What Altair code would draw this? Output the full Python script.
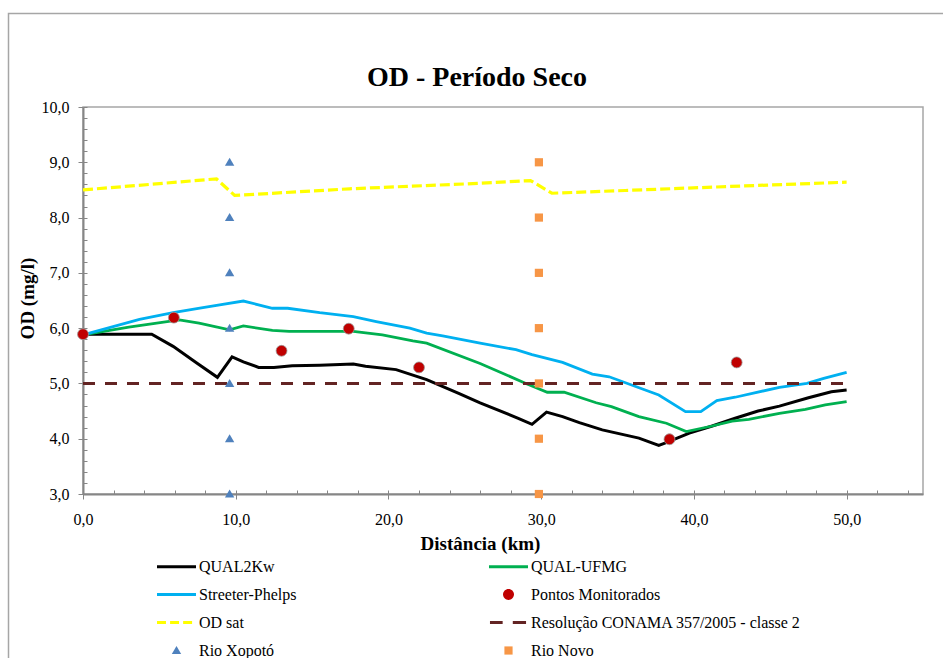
import altair as alt
import pandas as pd

# ---------------- data ----------------
q2k_x = [0, 4.5, 5.9, 7.4, 8.8, 9.76, 10.5, 11.5, 12.5, 13.7, 15.5, 17.7, 18.5, 20.5, 22.5,
         24.6, 26.0, 28.5, 29.4, 30.35, 31.4, 32.5, 34.0, 36.4, 37.7, 38.1, 39.7, 41.2,
         42.7, 44.2, 45.6, 47.5, 49.0, 50.0]
q2k_y = [5.89, 5.89, 5.67, 5.38, 5.11, 5.48, 5.39, 5.29, 5.29, 5.32, 5.33, 5.35, 5.31, 5.25, 5.07,
         4.82, 4.65, 4.37, 4.26, 4.48, 4.40, 4.29, 4.16, 4.01, 3.88, 3.92, 4.10, 4.23,
         4.37, 4.50, 4.59, 4.74, 4.85, 4.88]

ufmg_x = [0, 3.0, 6.3, 7.6, 9.6, 10.5, 12.4, 13.5, 17.7, 19.6, 21.6, 22.5, 26.0, 29.0, 30.4,
          31.5, 33.6, 34.6, 36.4, 38.2, 39.5, 41.2, 42.5, 43.6, 45.6, 47.3, 48.6, 50.0]
ufmg_y = [5.88, 6.02, 6.15, 6.09, 5.97, 6.04, 5.96, 5.94, 5.94, 5.88, 5.77, 5.73, 5.36, 5.00, 4.84,
          4.84, 4.65, 4.58, 4.40, 4.28, 4.13, 4.23, 4.32, 4.35, 4.46, 4.53, 4.61, 4.67]

sp_x = [0, 3.7, 5.9, 7.65, 8.95, 10.5, 12.4, 13.4, 15.5, 17.7, 19.2, 21.4, 22.5, 23.55, 26.0,
        28.35, 29.4, 31.4, 33.35, 34.45, 37.7, 39.45, 40.45, 41.5, 42.7, 45.6, 47.4, 48.5, 50.0]
sp_y = [5.88, 6.16, 6.28, 6.36, 6.42, 6.49, 6.36, 6.36, 6.28, 6.21, 6.12, 6.00, 5.91, 5.86, 5.73,
        5.61, 5.52, 5.38, 5.17, 5.12, 4.79, 4.49, 4.49, 4.69, 4.75, 4.93, 5.00, 5.09, 5.20]

odsat_x = [0, 8.74, 9.93, 17.45, 26.0, 29.3, 30.7, 35.5, 42.1, 50.0]
odsat_y = [8.50, 8.70, 8.40, 8.52, 8.62, 8.67, 8.44, 8.49, 8.56, 8.64]

conama_x = [0, 50]
conama_y = [5.0, 5.0]

mon_x = [0, 5.95, 13.0, 17.4, 22.0, 38.4, 42.8]
mon_y = [5.89, 6.19, 5.59, 5.99, 5.29, 3.99, 5.38]

xop_x = [9.6, 9.6, 9.6, 9.6, 9.6, 9.6, 9.6]
xop_y = [3, 4, 5, 6, 7, 8, 9]

novo_x = [29.85, 29.85, 29.85, 29.85, 29.85, 29.85, 29.85]
novo_y = [3, 4, 5, 6, 7, 8, 9]

series_names = ["QUAL2Kw", "QUAL-UFMG", "Streeter-Phelps", "Pontos Monitorados", "OD sat",
                "Resolução CONAMA 357/2005 - classe 2", "Rio Xopotó", "Rio Novo"]
series_colors = ["#000000", "#00B050", "#00B0F0", "#C00000", "#FFFF00", "#632423", "#4F81BD", "#F79646"]

y_major = [3, 4, 5, 6, 7, 8, 9, 10]
x_major = [0, 10, 20, 30, 40, 50]
y_minor = [round(3 + 0.2 * i, 1) for i in range(36)]
x_minor = [2 * i for i in range(28)]

# ---------------- styling ----------------
FONT = "Liberation Serif, Times New Roman, serif"
W, H = 840, 387
S = 1521  # symbol area -> 39 px wide legend symbols

line_path = "M-1,-0.075H1V0.075H-1Z"
ysat_path = "M-1,-0.075H-0.54V0.075H-1Z M-0.33,-0.075H0.13V0.075H-0.33Z M0.34,-0.075H0.8V0.075H0.34Z"
conama_path = "M-0.95,-0.08H-0.3V0.08H-0.95Z M0.22,-0.08H0.9V0.08H0.22Z"
circle_path = "M0.28,0A0.28,0.28 0 1,1 -0.28,0A0.28,0.28 0 1,1 0.28,0Z"
tri_path = "M0,-0.23L0.24,0.18L-0.24,0.18Z"
sq_path = "M-0.21,-0.21H0.21V0.21H-0.21Z"
series_shapes = [line_path, line_path, line_path, circle_path, ysat_path, conama_path, tri_path, sq_path]

xscale = alt.Scale(domain=[0, 55], nice=False, zero=False)
yscale = alt.Scale(domain=[3, 10], nice=False, zero=False)
comma_fmt = "replace(format(datum.value, '.1f'), '.', ',')"

main_x_axis = alt.Axis(values=x_major, labelExpr=comma_fmt, orient="bottom", grid=False,
                       tickSize=5, tickColor="#868686", tickWidth=1,
                       domainColor="#868686", domainWidth=2, labelFlush=False,
                       labelFont=FONT, labelFontSize=16, labelColor="#000000",
                       labelBaseline="alphabetic", labelPadding=25,
                       title="Distância (km)", titleFont=FONT, titleFontSize=19,
                       titleFontWeight="bold", titleColor="#000000",
                       titleX=397, titleY=55, titleAlign="center", titleBaseline="alphabetic")
main_y_axis = alt.Axis(values=y_major, labelExpr=comma_fmt, orient="left", grid=False,
                       tickSize=5, tickColor="#868686", tickWidth=1,
                       domainColor="#868686", domainWidth=2, labelFlush=False,
                       labelFont=FONT, labelFontSize=16, labelColor="#000000",
                       labelPadding=9,
                       title="OD (mg/l)", titleFont=FONT, titleFontSize=19,
                       titleFontWeight="bold", titleColor="#000000",
                       titleX=-50, titleY=191, titleAlign="center", titleBaseline="alphabetic",
                       titleAngle=270)
minor_x_axis = alt.Axis(values=x_minor, orient="bottom", grid=False, labels=False, domain=False,
                        tickSize=4, offset=-4, tickColor="#868686", tickWidth=1, title=None)
minor_y_axis = alt.Axis(values=y_minor, orient="left", grid=False, labels=False, domain=False,
                        tickSize=4, offset=-4, tickColor="#868686", tickWidth=1, title=None)


def line_df(xs, ys):
    return pd.DataFrame({"x": xs, "y": ys})


def line_layer(xs, ys, color, width, dash=None, xaxis=None, yaxis=None):
    kw = dict(color=color, strokeWidth=width, clip=False)
    if dash is not None:
        kw["strokeDash"] = dash
    return alt.Chart(line_df(xs, ys)).mark_line(**kw).encode(
        x=alt.X("x:Q", scale=xscale, axis=xaxis),
        y=alt.Y("y:Q", scale=yscale, axis=yaxis),
    )


frame = alt.Chart(alt.Data(values=[{}])).mark_rect(
    fill="transparent", stroke="#A6A6A6", strokeWidth=1.5, clip=False
).encode(x=alt.value(-74.5), x2=alt.value(880), y=alt.value(-93.5), y2=alt.value(600))

l_q2k = line_layer(q2k_x, q2k_y, "#000000", 3, xaxis=main_x_axis, yaxis=main_y_axis)
l_ufmg = line_layer(ufmg_x, ufmg_y, "#00B050", 2.8, xaxis=minor_x_axis, yaxis=minor_y_axis)
l_sp = line_layer(sp_x, sp_y, "#00B0F0", 2.8)
l_sat = line_layer(odsat_x, odsat_y, "#FFFF00", 3.2, dash=[10, 4])
l_con = line_layer(conama_x, conama_y, "#632423", 3, dash=[12, 10])

pts = pd.concat([
    pd.DataFrame({"serie": "Pontos Monitorados", "x": mon_x, "y": mon_y}),
    pd.DataFrame({"serie": "Rio Xopotó", "x": xop_x, "y": xop_y}),
    pd.DataFrame({"serie": "Rio Novo", "x": novo_x, "y": novo_y}),
], ignore_index=True)

legend = alt.Legend(title=None, orient="none", legendX=74, legendY=440, columns=2,
                    direction="horizontal",
                    columnPadding=192, rowPadding=0, padding=0, offset=0,
                    labelFont=FONT, labelFontSize=16, labelColor="#000000", labelOffset=3,
                    symbolSize=S, symbolStrokeWidth=0, symbolOpacity=1, labelLimit=400)

points = alt.Chart(pts).mark_point(filled=True, size=S, opacity=1, clip=False).encode(
    x=alt.X("x:Q", scale=xscale, axis=None),
    y=alt.Y("y:Q", scale=yscale, axis=None),
    color=alt.Color("serie:N", scale=alt.Scale(domain=series_names, range=series_colors), legend=legend),
    shape=alt.Shape("serie:N", scale=alt.Scale(domain=series_names, range=series_shapes), legend=legend),
)

mon_outline = alt.Chart(pd.DataFrame({"x": mon_x, "y": mon_y})).mark_point(
    shape=circle_path, size=S, filled=False, stroke="#A0A0A0", strokeWidth=0.8, opacity=1, clip=False
).encode(
    x=alt.X("x:Q", scale=xscale, axis=None),
    y=alt.Y("y:Q", scale=yscale, axis=None),
)

chart = alt.layer(frame, l_q2k, l_ufmg, l_sp, l_sat, l_con, points, mon_outline).resolve_axis(
    x="independent", y="independent"
).properties(
    width=W, height=H,
    autosize=alt.AutoSizeParams(type="none"),
    padding={"left": 83, "top": 107, "right": 20, "bottom": 164},
    title=alt.TitleParams("OD - Período Seco", font=FONT, fontSize=28, fontWeight="bold",
                          color="#000000", anchor="middle", frame="group", dx=-26, dy=121,
                          offset=20, baseline="alphabetic"),
    background="#FFFFFF",
).configure_view(stroke="#A6A6A6", strokeWidth=1.5)

chart.save("out.html", embed_options={"renderer": "svg", "actions": False})
